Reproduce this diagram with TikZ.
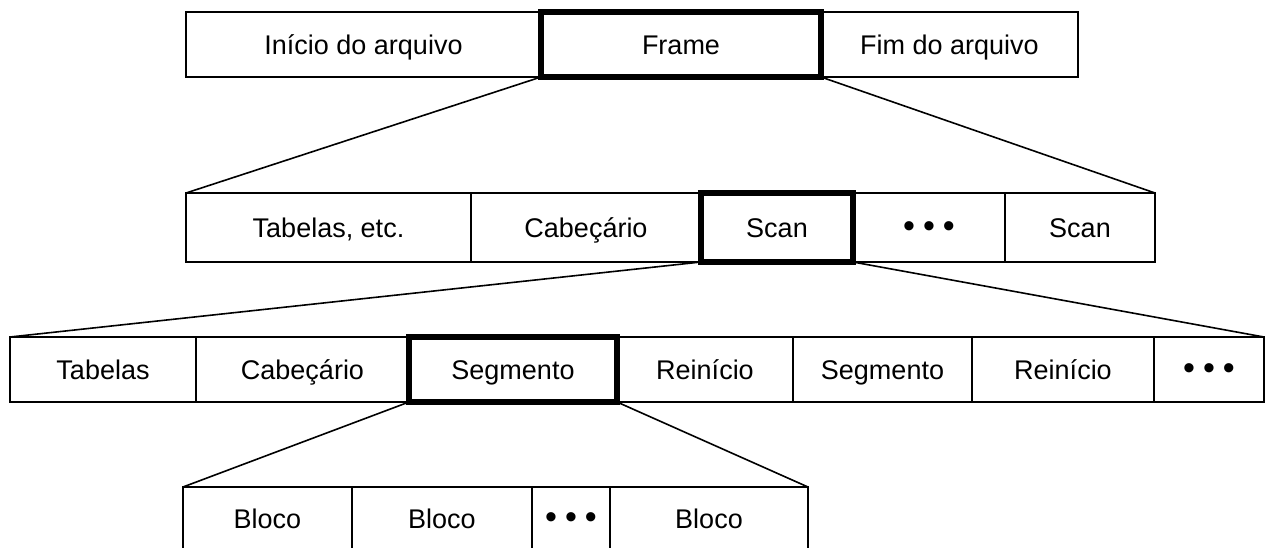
\documentclass[tikz,border=0pt]{standalone}
\usepackage{fontspec}
\setmainfont{Liberation Sans}
\newcommand{\tripledots}{{\fontsize{34}{34}\selectfont •\hspace{8pt}•\hspace{8pt}•}}
\begin{document}
\begin{tikzpicture}[x=1pt,y=-1pt,
  cell/.style={draw=black,line width=1.6pt,inner sep=0pt,outer sep=0pt,anchor=north west,
    font=\fontsize{27}{31}\selectfont,text height=19.3pt,text depth=0pt},
  hot/.style={cell,line width=5.5pt},
  link/.style={draw=black,line width=1.6pt}]
\useasboundingbox (0,0) rectangle (1267,547);
\clip (0,0) rectangle (1267,547);
% row 1
\node[cell,minimum width=355,minimum height=65] (ini) at (186,12) {Início do arquivo};
\node[cell,minimum width=257,minimum height=65] (fim) at (821,12) {Fim do arquivo};
\node[hot,minimum width=280,minimum height=65] (frame) at (541,12) {Frame};
% row 2
\node[cell,minimum width=285,minimum height=69] (tab2) at (186,193) {Tabelas, etc.};
\node[cell,minimum width=230,minimum height=69] (cab2) at (471,193) {Cabeçário};
\node[cell,minimum width=152,minimum height=69] (dots2) at (853,193) {\tripledots};
\node[cell,minimum width=150,minimum height=69] (scanb) at (1005,193) {Scan};
\node[hot,minimum width=152,minimum height=69] (scan) at (701,193) {Scan};
% row 3
\node[cell,minimum width=186,minimum height=65] (tab3) at (10,337) {Tabelas};
\node[cell,minimum width=213,minimum height=65] (cab3) at (196,337) {Cabeçário};
\node[cell,minimum width=176,minimum height=65] (rei1) at (617,337) {Reinício};
\node[cell,minimum width=179,minimum height=65] (seg2) at (793,337) {Segmento};
\node[cell,minimum width=182,minimum height=65] (rei2) at (972,337) {Reinício};
\node[cell,minimum width=110,minimum height=65] (dots3) at (1154,337) {\tripledots};
\node[hot,minimum width=208,minimum height=65] (seg) at (409,337) {Segmento};
% row 4
\node[cell,minimum width=169,minimum height=64] (b1) at (183,487) {Bloco};
\node[cell,minimum width=180,minimum height=64] (b2) at (352,487) {Bloco};
\node[cell,minimum width=78,minimum height=64] (dots4) at (532,487) {\tripledots};
\node[cell,minimum width=198,minimum height=64] (b3) at (610,487) {Bloco};
% connectors
\draw[link] (frame.south west) -- (tab2.north west);
\draw[link] (frame.south east) -- (scanb.north east);
\draw[link] (scan.south west) -- (tab3.north west);
\draw[link] (scan.south east) -- (dots3.north east);
\draw[link] (seg.south west) -- (b1.north west);
\draw[link] (seg.south east) -- (b3.north east);
\end{tikzpicture}
\end{document}
